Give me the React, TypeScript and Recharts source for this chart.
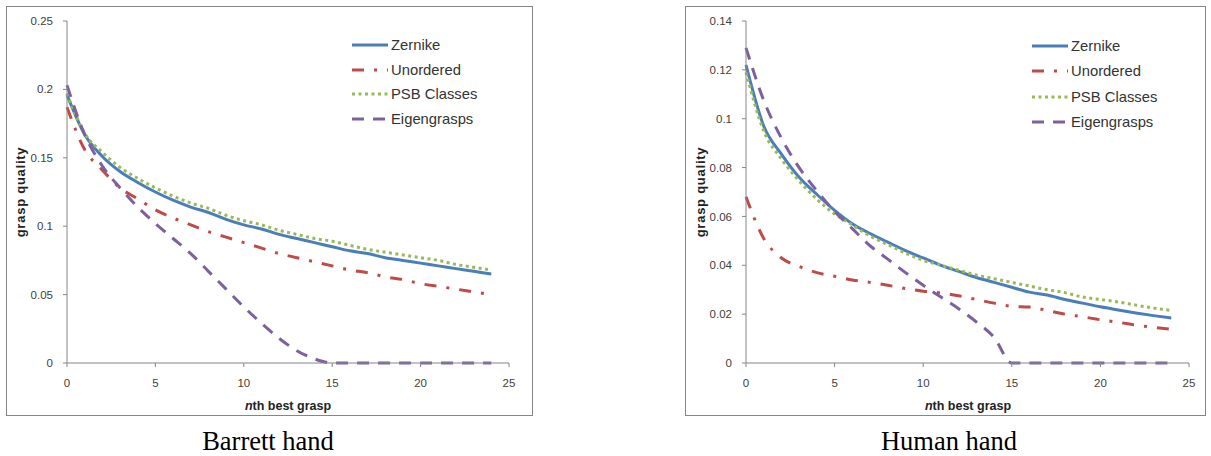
import { LineChart, Line, XAxis, YAxis } from "recharts";

// nth best grasp
const nth = [0, 1, 2, 3, 4, 5, 6, 7, 8, 9, 10, 11, 12, 13, 14, 15, 16, 17, 18, 19, 20, 21, 22, 23, 24];

// Barrett hand
const zernikeB = [0.196, 0.167, 0.151, 0.14, 0.132, 0.125, 0.119, 0.114, 0.11, 0.105, 0.101, 0.098, 0.094, 0.091, 0.088, 0.085, 0.082, 0.08, 0.077, 0.075, 0.073, 0.071, 0.069, 0.067, 0.065];
const unorderedB = [0.187, 0.156, 0.141, 0.128, 0.12, 0.112, 0.106, 0.101, 0.096, 0.092, 0.088, 0.084, 0.08, 0.077, 0.074, 0.071, 0.068, 0.066, 0.063, 0.061, 0.058, 0.056, 0.054, 0.052, 0.05];
const psbB = [0.197, 0.168, 0.154, 0.143, 0.135, 0.128, 0.122, 0.117, 0.113, 0.108, 0.104, 0.101, 0.097, 0.094, 0.091, 0.089, 0.086, 0.083, 0.081, 0.079, 0.077, 0.075, 0.072, 0.07, 0.068];
const eigenB = [0.203, 0.167, 0.144, 0.128, 0.114, 0.102, 0.091, 0.08, 0.067, 0.054, 0.041, 0.029, 0.018, 0.009, 0.003, 0, 0, 0, 0, 0, 0, 0, 0, 0, 0];

// Human hand
const zernikeH = [0.122, 0.097, 0.0855, 0.076, 0.069, 0.0625, 0.057, 0.053, 0.0495, 0.046, 0.043, 0.04, 0.0375, 0.035, 0.033, 0.031, 0.029, 0.0278, 0.026, 0.0245, 0.023, 0.0217, 0.0205, 0.0194, 0.0184];
const unorderedH = [0.068, 0.051, 0.043, 0.0395, 0.037, 0.0355, 0.034, 0.033, 0.0318, 0.0305, 0.0294, 0.0287, 0.0275, 0.026, 0.0245, 0.0232, 0.0229, 0.0215, 0.02, 0.0189, 0.0177, 0.0167, 0.0155, 0.0146, 0.0138];
const psbH = [0.119, 0.095, 0.0835, 0.0745, 0.067, 0.061, 0.0565, 0.052, 0.0485, 0.045, 0.042, 0.04, 0.038, 0.036, 0.0345, 0.033, 0.0315, 0.03, 0.0288, 0.027, 0.026, 0.025, 0.0237, 0.0225, 0.0215];
const eigenH = [0.129, 0.1075, 0.092, 0.08, 0.0705, 0.062, 0.055, 0.048, 0.0425, 0.037, 0.0318, 0.027, 0.0222, 0.0168, 0.0105, 0, 0, 0, 0, 0, 0, 0, 0, 0, 0];

const xTicks = [0, 5, 10, 15, 20, 25];
const yTicksB = [0, 0.05, 0.1, 0.15, 0.2, 0.25];
const yTicksH = [0, 0.02, 0.04, 0.06, 0.08, 0.1, 0.12, 0.14];

const seriesNames = ["Zernike", "Unordered", "PSB Classes", "Eigengrasps"];
const captions = ["Barrett hand", "Human hand"];

const SANS = "'Liberation Sans', Arial, sans-serif";
const AXIS = "#868686";
const TEXT = "#404040";

const styles = [
  { key: "zernike", color: "#4a7ebb", dash: undefined as string | undefined },
  { key: "unordered", color: "#be4b48", dash: "12 10 3 10" },
  { key: "psb", color: "#98b954", dash: "3 3.5" },
  { key: "eigen", color: "#7d60a0", dash: "12 9" },
];

function buildRows(z: number[], u: number[], p: number[], e: number[]) {
  return nth.map((n, i) => ({ n, zernike: z[i], unordered: u[i], psb: p[i], eigen: e[i] }));
}

const fmt = (v: number) => String(Number(v.toFixed(3)));

function Panel({
  rows,
  yTicks,
  left,
  width,
  marginLeft,
  marginRight,
}: {
  rows: ReturnType<typeof buildRows>;
  yTicks: number[];
  left: number;
  width: number;
  marginLeft: number;
  marginRight: number;
}) {
  const tick = { fontSize: 11.5, fill: TEXT, fontFamily: SANS };
  return (
    <div style={{ position: "absolute", left, top: 0 }}>
      <LineChart
        width={width}
        height={420}
        data={rows}
        margin={{ top: 21, right: marginRight, bottom: 27, left: marginLeft }}
      >
        <XAxis
          type="number"
          dataKey="n"
          domain={[0, 25]}
          ticks={xTicks}
          tick={tick}
          height={30}
          tickSize={4}
          tickMargin={12}
          axisLine={{ stroke: AXIS }}
          tickLine={{ stroke: AXIS }}
        />
        <YAxis
          type="number"
          domain={[0, yTicks[yTicks.length - 1]]}
          ticks={yTicks}
          tickFormatter={fmt}
          tick={tick}
          width={60}
          tickSize={4}
          tickMargin={10}
          axisLine={{ stroke: AXIS }}
          tickLine={{ stroke: AXIS }}
        />
        {styles.map((s) => (
          <Line
            key={s.key}
            type="monotone"
            dataKey={s.key}
            stroke={s.color}
            strokeWidth={3}
            strokeDasharray={s.dash}
            dot={false}
            activeDot={false}
            isAnimationActive={false}
          />
        ))}
      </LineChart>
    </div>
  );
}

function Legend({ x1, x2, tx, ys }: { x1: number; x2: number; tx: number; ys: number[] }) {
  return (
    <g>
      {styles.map((s, i) => (
        <g key={s.key}>
          <line x1={x1} x2={x2} y1={ys[i]} y2={ys[i]} stroke={s.color} strokeWidth={3} strokeDasharray={s.dash} />
          <text x={tx} y={ys[i]} dy="0.35em" fontSize={14.8} fill="#333" fontFamily={SANS}>
            {seriesNames[i]}
          </text>
        </g>
      ))}
    </g>
  );
}

function Titles({ yx, cx }: { yx: number; cx: number }) {
  return (
    <g fontFamily={SANS} fontWeight="bold" fill="#222">
      <text
        x={yx}
        y={192}
        textAnchor="middle"
        dy="0.35em"
        fontSize={13}
        letterSpacing={0.75}
        transform={`rotate(-90 ${yx} 192)`}
      >
        grasp quality
      </text>
      <text x={cx} y={410} textAnchor="middle" fontSize={12.5}>
        <tspan fontStyle="italic">n</tspan>th best grasp
      </text>
    </g>
  );
}

export default function App() {
  const rowsB = buildRows(zernikeB, unorderedB, psbB, eigenB);
  const rowsH = buildRows(zernikeH, unorderedH, psbH, eigenH);
  return (
    <div style={{ position: "relative", width: 1211, height: 456, background: "#fff", overflow: "hidden" }}>
      <style>{"body{margin:0}"}</style>
      <div style={{ position: "absolute", left: 6, top: 6, width: 525, height: 408, border: `1px solid ${AXIS}` }} />
      <div style={{ position: "absolute", left: 685, top: 6, width: 519, height: 408, border: `1px solid ${AXIS}` }} />
      <Panel rows={rowsB} yTicks={yTicksB} left={0} width={540} marginLeft={7} marginRight={31} />
      <Panel rows={rowsH} yTicks={yTicksH} left={680} width={531} marginLeft={6} marginRight={22} />
      <svg
        width={1211}
        height={456}
        style={{ position: "absolute", left: 0, top: 0, pointerEvents: "none" }}
      >
        <Legend x1={352} x2={388} tx={391} ys={[45, 70, 94, 119]} />
        <Legend x1={1032} x2={1068} tx={1071} ys={[46, 71, 97, 122]} />
        <Titles yx={20} cx={288} />
        <Titles yx={700} cx={968} />
        <text x={268} y={450} textAnchor="middle" fontSize={26.5} fontFamily="'Liberation Serif', serif" fill="#000">
          {captions[0]}
        </text>
        <text x={949} y={450} textAnchor="middle" fontSize={26.5} fontFamily="'Liberation Serif', serif" fill="#000">
          {captions[1]}
        </text>
      </svg>
    </div>
  );
}
